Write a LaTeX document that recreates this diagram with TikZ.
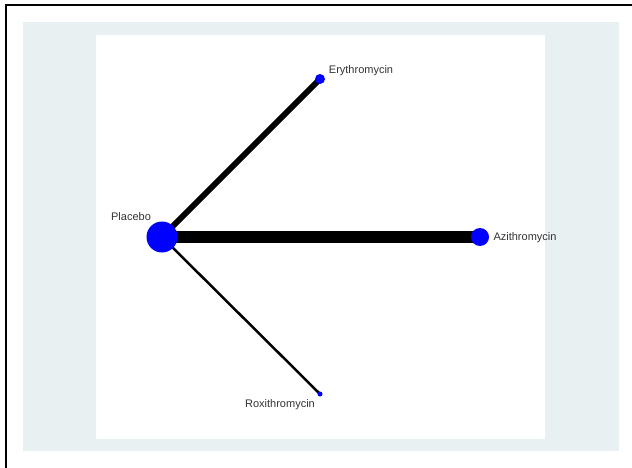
\documentclass[tikz,border=0pt]{standalone}
\usepackage{fontspec}
\setmainfont{Liberation Sans}
\usetikzlibrary{backgrounds}
\definecolor{panelgray}{HTML}{E9F0F2}
\definecolor{labelgray}{HTML}{333333}
\begin{document}
\begin{tikzpicture}[x=1pt,y=-1pt,
  trt/.style={circle,fill=blue,draw=none,inner sep=0pt},
  lbl/.style={font=\fontsize{11}{13}\selectfont,text=labelgray,inner sep=0pt},
  edge/.style={draw=black,line cap=butt}]
\useasboundingbox (0,0) rectangle (632,468);
% treatment nodes
\node[trt,minimum size=31pt] (plac) at (162,237) {};
\node[trt,minimum size=18pt] (azit) at (480,237) {};
\node[trt,minimum size=10pt] (eryt) at (320,79) {};
\node[trt,minimum size=5pt] (roxi) at (320,394) {};
% labels
\node[lbl] (lplac) at (131,217) {Placebo};
\node[lbl] (leryt) at (361,71) {Erythromycin};
\node[lbl] (lazit) at (525,238) {Azithromycin};
\node[lbl] (lroxi) at (280,405) {Roxithromycin};
% panels and edges behind the nodes
\begin{scope}[on background layer]
\fill[panelgray] (23,22) rectangle (619,451);
\fill[white] (96,35) rectangle (545,439);
\draw[line width=2pt] (6,468) -- (6,5) -- (632,5);
\draw[edge,line width=12.5pt] (plac.center) -- (azit.center);
\draw[edge,line width=6pt] (plac.center) -- (eryt.center);
\draw[edge,line width=2.5pt] (plac.center) -- (roxi.center);
\end{scope}
\end{tikzpicture}
\end{document}
